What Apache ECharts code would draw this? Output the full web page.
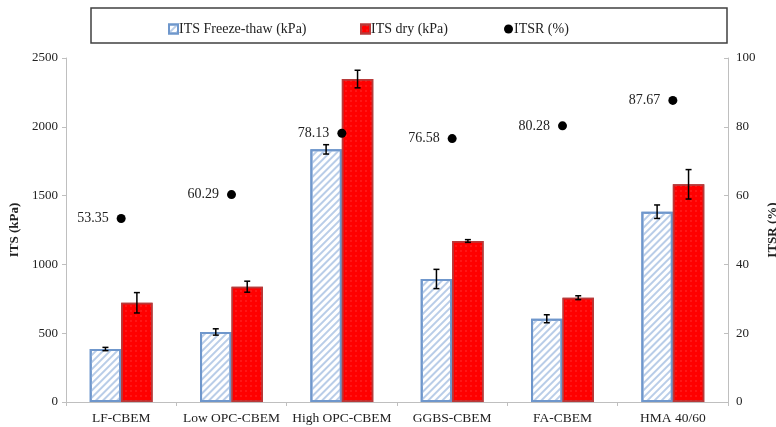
<!DOCTYPE html>
<html>
<head>
<meta charset="utf-8">
<script src="https://cdn.jsdelivr.net/npm/echarts@6/dist/echarts.min.js"></script>
<style>
  html, body { margin: 0; padding: 0; background: #fff; }
  #chart { width: 776px; height: 427px; }
</style>
</head>
<body>
<div id="chart"></div>
<script>
// Mixtures tested
const categories = ['LF-CBEM', 'Low OPC-CBEM', 'High OPC-CBEM', 'GGBS-CBEM', 'FA-CBEM', 'HMA 40/60'];

// Indirect tensile strength (kPa) and standard deviations
const itsFreezeThaw = [385, 509, 1836, 894, 605, 1383];
const itsFreezeThawErr = [12, 23, 34, 70, 29, 49];
const itsDry = [721, 838, 2347, 1170, 758, 1582];
const itsDryErr = [74, 40, 64, 10, 14, 107];

// Tensile strength ratio (%)
const itsr = [53.35, 60.29, 78.13, 76.58, 80.28, 87.67];

// Axis ticks
const leftTicks = { min: 0, max: 2500, interval: 500 };
const rightTicks = { min: 0, max: 100, interval: 20 };

const FONT = '"Liberation Serif", "DejaVu Serif", serif';
const TEXT = '#222';
const CATEGORY_GAP = 0.43;

// Error bars drawn next to each bar of a pair (side: -1 left bar, +1 right bar)
function errorSeries(name, values, errs, side) {
  return {
    name: name,
    type: 'custom',
    yAxisIndex: 0,
    z: 10,
    silent: true,
    data: values.map((v, i) => [i, v - errs[i], v + errs[i]]),
    renderItem: function (params, api) {
      const band = api.size([1, 0])[0];
      const barW = band * (1 - CATEGORY_GAP) / 2;
      const c = api.coord([api.value(0), api.value(1)]);
      const x = c[0] + side * barW / 2;
      const lo = c[1];
      const hi = api.coord([api.value(0), api.value(2)])[1];
      const cap = 3;
      const style = { stroke: '#000', lineWidth: 1.5 };
      return {
        type: 'group',
        children: [
          { type: 'line', shape: { x1: x, y1: lo, x2: x, y2: hi }, style: style },
          { type: 'line', shape: { x1: x - cap, y1: lo, x2: x + cap, y2: lo }, style: style },
          { type: 'line', shape: { x1: x - cap, y1: hi, x2: x + cap, y2: hi }, style: style }
        ]
      };
    }
  };
}

function legendAt(left, name, icon) {
  return {
    top: 17,
    left: left,
    itemWidth: 9,
    itemHeight: 9,
    itemGap: 0,
    textStyle: { fontFamily: FONT, fontSize: 14, color: TEXT, padding: [0, 0, 0, -4] },
    data: [{ name: name, icon: icon }]
  };
}

const chart = echarts.init(document.getElementById('chart'), null, { renderer: 'canvas' });

chart.setOption({
  animation: false,
  textStyle: { fontFamily: FONT },
  grid: { left: 66, right: 48, top: 58, bottom: 25, containLabel: false, outerBoundsMode: 'none' },
  graphic: [{
    type: 'rect',
    shape: { x: 91, y: 8, width: 636, height: 35 },
    style: { fill: '#fff', stroke: '#404040', lineWidth: 1.5 },
    z: -1
  }],
  legend: [
    legendAt(163, 'ITS Freeze-thaw (kPa)', 'rect'),
    legendAt(355, 'ITS dry (kPa)', 'rect'),
    legendAt(499, 'ITSR (%)', 'circle')
  ],
  xAxis: {
    type: 'category',
    data: categories,
    axisLine: { lineStyle: { color: '#bfbfbf', width: 1 } },
    axisTick: { show: true, length: 4, lineStyle: { color: '#bfbfbf' } },
    axisLabel: { interval: 0, fontFamily: FONT, fontSize: 13.5, color: TEXT, margin: 9 }
  },
  yAxis: [{
    type: 'value',
    min: leftTicks.min, max: leftTicks.max, interval: leftTicks.interval,
    name: 'ITS (kPa)',
    nameLocation: 'middle',
    nameGap: 44,
    nameTextStyle: { fontFamily: FONT, fontSize: 13, fontWeight: 'bold', color: TEXT },
    axisLine: { show: true, lineStyle: { color: '#bfbfbf' } },
    axisTick: { show: true, length: 4, lineStyle: { color: '#bfbfbf' } },
    axisLabel: { fontFamily: FONT, fontSize: 13, color: TEXT, margin: 8, formatter: v => String(v) },
    splitLine: { show: false }
  }, {
    type: 'value',
    min: rightTicks.min, max: rightTicks.max, interval: rightTicks.interval,
    name: 'ITSR (%)',
    nameLocation: 'middle',
    nameGap: 38,
    nameRotate: 90,
    nameTextStyle: { fontFamily: FONT, fontSize: 13, fontWeight: 'bold', color: TEXT },
    position: 'right',
    axisLine: { show: true, lineStyle: { color: '#bfbfbf' } },
    axisTick: { show: true, inside: true, length: 4, lineStyle: { color: '#bfbfbf' } },
    axisLabel: { fontFamily: FONT, fontSize: 13, color: TEXT, margin: 8, formatter: v => String(v) },
    splitLine: { show: false }
  }],
  series: [{
    name: 'ITS Freeze-thaw (kPa)',
    type: 'bar',
    yAxisIndex: 0,
    data: itsFreezeThaw,
    barGap: '0%',
    barCategoryGap: (CATEGORY_GAP * 100) + '%',
    itemStyle: {
      color: '#ffffff',
      borderColor: '#6f97cc',
      borderWidth: 2,
      decal: {
        symbol: 'rect',
        color: '#b9cde8',
        dashArrayX: [1, 0],
        dashArrayY: [1.5, 2.5],
        rotation: -Math.PI / 4
      }
    }
  }, {
    name: 'ITS dry (kPa)',
    type: 'bar',
    yAxisIndex: 0,
    data: itsDry,
    itemStyle: {
      color: '#ff0000',
      borderColor: '#b83a3a',
      borderWidth: 1.5,
      decal: {
        symbol: 'rect',
        symbolSize: 0.5,
        color: 'rgba(255,200,200,0.45)',
        dashArrayX: [[2, 3]],
        dashArrayY: [2, 3]
      }
    }
  },
  errorSeries('ftErr', itsFreezeThaw, itsFreezeThawErr, -1),
  errorSeries('dryErr', itsDry, itsDryErr, 1),
  {
    name: 'ITSR (%)',
    type: 'line',
    yAxisIndex: 1,
    data: itsr,
    z: 12,
    lineStyle: { width: 0, opacity: 0 },
    symbol: 'circle',
    symbolSize: 9,
    itemStyle: { color: '#000' },
    label: {
      show: true,
      position: 'left',
      distance: 8,
      fontFamily: FONT,
      fontSize: 14,
      color: TEXT,
      formatter: p => p.value.toFixed(2)
    }
  }]
});
</script>
</body>
</html>
